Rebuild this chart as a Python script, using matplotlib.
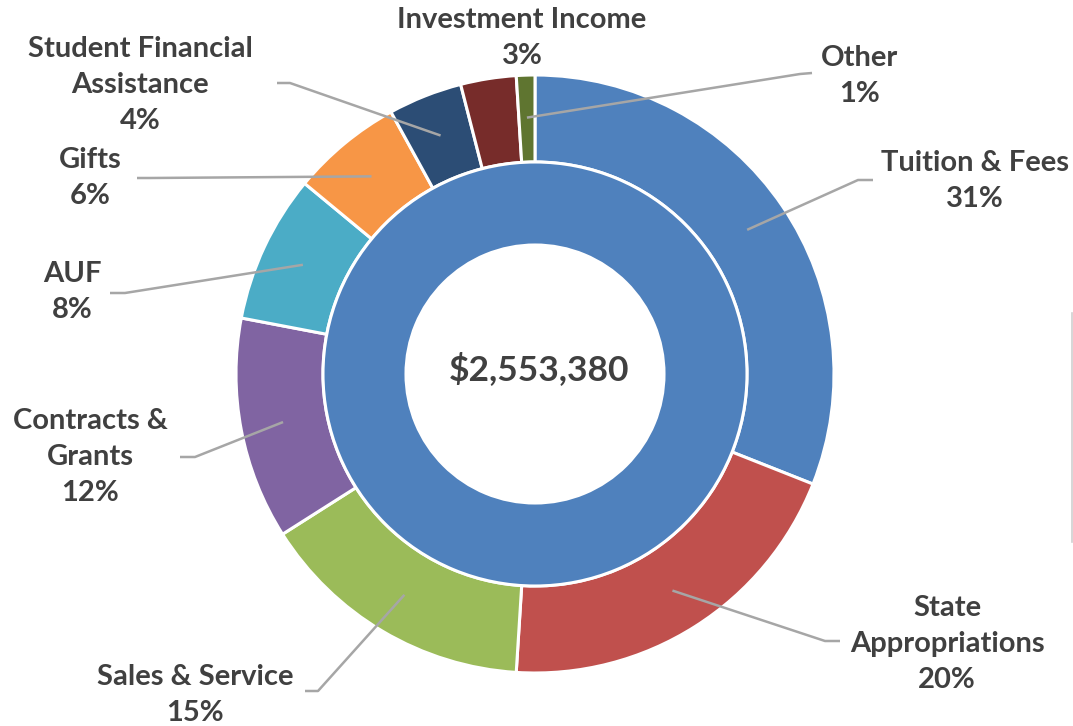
import matplotlib
matplotlib.use("Agg")
from matplotlib import pyplot as plt
from matplotlib.lines import Line2D
import numpy as np

# revenue sources, clockwise from 12 o'clock
labels = ['Tuition & Fees', 'State\nAppropriations', 'Sales & Service',
          'Contracts &\nGrants', 'AUF', 'Gifts', 'Student Financial\nAssistance',
          'Investment Income', 'Other']
shares = [31, 20, 15, 12, 8, 6, 4, 3, 1]
total = 2553380

colors = ['#4F81BD', '#C0504D', '#9BBB59', '#8064A2', '#4BACC6',
          '#F79646', '#2C4D75', '#772C2A', '#5F7530']
inner_color = '#4F81BD'
txt_color = '#404040'
lead_color = '#A6A6A6'

# label layout in pixels (text centre, leader elbow, leader end)
label_xy = [(975, 181), (947, 644), (195, 695), (90, 457), (72, 292),
            (90, 178), (140, 85), (522, 38), (860, 76)]
elbows = [(858, 180), (825, 641), (318, 691), (195, 457), (125, 293),
          (150, 178), (290, 83), None, (800, 74)]
ends = [(873, 180), (840, 641), (305, 691), (180, 457), (110, 293),
        (137, 178), (277, 83), None, (812, 73)]

W, H = 1073, 726
cx, cy = 535, 374
r_out, r_mid, r_hole = 299, 214, 131

fig = plt.figure(figsize=(W / 100, H / 100), dpi=100)
ax = fig.add_axes([0, 0, 1, 1])

# outer ring; y axis is flipped below, so counterclock in data = clockwise on screen
wedges, _ = ax.pie(shares, colors=colors, radius=r_out, center=(cx, cy),
                   startangle=270, counterclock=True,
                   wedgeprops=dict(width=r_out - r_mid + 2, edgecolor='white', linewidth=2.2))
# inner ring (single full slice)
ax.pie([total], colors=[inner_color], radius=r_mid - 2, center=(cx, cy),
       startangle=270, counterclock=True,
       wedgeprops=dict(width=r_mid - r_hole, edgecolor='white', linewidth=2.2))

ax.set_xlim(0, W)
ax.set_ylim(H, 0)
ax.set_aspect('equal')
ax.axis('off')

font = dict(family=['Lato', 'DejaVu Sans'], weight='bold', color=txt_color)

r_lead = (r_out + r_mid) / 2
for w, lab, v, (tx, ty), el, en in zip(wedges, labels, shares, label_xy, elbows, ends):
    ax.text(tx, ty, f"{lab}\n{v}%", ha='center', va='center', ma='center',
            fontsize=21, linespacing=1.47, **font)
    if el is None:
        continue
    th = np.deg2rad((w.theta1 + w.theta2) / 2)
    sx, sy = cx + r_lead * np.cos(th), cy + r_lead * np.sin(th)
    ax.plot([sx, el[0], en[0]], [sy, el[1], en[1]], color=lead_color, lw=1.8,
            solid_capstyle='butt')

ax.text(cx + 4, 369, f"${total:,}", ha='center', va='center', fontsize=25.5, **font)

# faint border stub at the right edge
fig.add_artist(Line2D([1072 / W, 1072 / W], [1 - 313 / H, 1 - 542 / H],
                      color='#D0D0D0', lw=1.2))

fig.savefig('out.png', dpi=100, facecolor='white')
